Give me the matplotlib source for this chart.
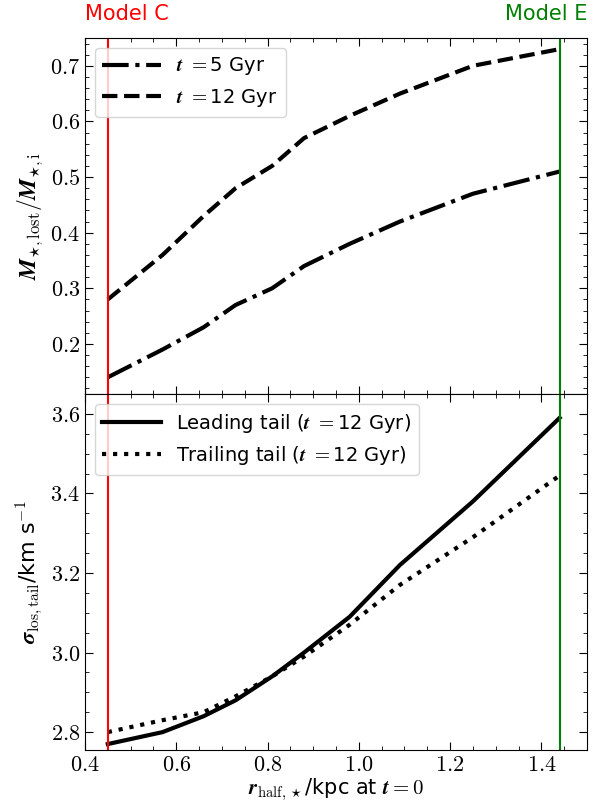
import numpy as np
import matplotlib
matplotlib.use('Agg')
import matplotlib.pyplot as plt
from matplotlib.ticker import MultipleLocator, FuncFormatter

plt.rcParams['mathtext.fontset'] = 'cm'
plt.rcParams['font.family'] = ['DejaVu Sans']

# half-light radius at t=0 for each model
r_half = [0.45, 0.57, 0.66, 0.73, 0.81, 0.88, 0.98, 1.09, 1.25, 1.44]

# fraction of stellar mass lost
mlost_5gyr = [0.14, 0.19, 0.23, 0.27, 0.30, 0.34, 0.38, 0.42, 0.47, 0.51]
mlost_12gyr = [0.28, 0.36, 0.43, 0.48, 0.52, 0.57, 0.61, 0.65, 0.70, 0.73]

# los velocity dispersion of the tails at t=12 Gyr
sig_leading = [2.77, 2.80, 2.84, 2.88, 2.94, 3.00, 3.09, 3.22, 3.38, 3.59]
sig_trailing = [2.80, 2.83, 2.85, 2.89, 2.94, 2.99, 3.07, 3.17, 3.29, 3.445]

x_modelC = 0.45
x_modelE = 1.44

fig, (ax1, ax2) = plt.subplots(2, 1, sharex=True, figsize=(6.01, 8.05), dpi=100)
fig.subplots_adjust(left=0.1414, right=0.9767, top=0.9528, bottom=0.0683, hspace=0)

ax1.plot(r_half, mlost_5gyr, color='k', lw=3, ls='-.', label=r'$\boldsymbol{t}$ $=$5 Gyr')
ax1.plot(r_half, mlost_12gyr, color='k', lw=3, ls='--', label=r'$\boldsymbol{t}$ $=$12 Gyr')
ax1.set_ylim(0.11, 0.75)
ax1.set_ylabel(r'$\boldsymbol{M}_{\star,\rm lost}/\boldsymbol{M}_{\star,\rm i}$', fontsize=17)
ax1.yaxis.set_major_locator(MultipleLocator(0.1))
ax1.yaxis.set_minor_locator(MultipleLocator(0.02))
ax1.legend(loc='upper left', fontsize=14, handlelength=3)

ax2.plot(r_half, sig_leading, color='k', lw=3, ls='-', label=r'Leading tail ($\boldsymbol{t}$ $=$12 Gyr)')
ax2.plot(r_half, sig_trailing, color='k', lw=3, ls=':', label=r'Trailing tail ($\boldsymbol{t}$ $=$12 Gyr)')
ax2.set_ylim(2.755, 3.65)
ax2.set_ylabel(r'$\boldsymbol{\sigma}_{\rm los,tail}$/km s$^{-1}$', fontsize=16)
ax2.yaxis.set_major_locator(MultipleLocator(0.2))
ax2.yaxis.set_minor_locator(MultipleLocator(0.05))
ax2.legend(loc='upper left', fontsize=14, handlelength=3)

ax2.set_xlim(0.4, 1.5)
ax2.xaxis.set_major_locator(MultipleLocator(0.2))
ax2.xaxis.set_minor_locator(MultipleLocator(0.05))
ax2.set_xlabel(r'$\boldsymbol{r}_{\rm half,\star}$/kpc at $\boldsymbol{t}=0$', fontsize=15, labelpad=1)

fmt = FuncFormatter(lambda v, p: r'$%.1f$' % v)
for ax in (ax1, ax2):
    ax.axvline(x_modelC, color='red', lw=1.5)
    ax.axvline(x_modelE, color='green', lw=1.5)
    ax.tick_params(which='both', direction='in', top=True, right=True)
    ax.tick_params(which='major', length=6, labelsize=16)
    ax.tick_params(which='minor', length=3)
    ax.xaxis.set_major_formatter(fmt)
    ax.yaxis.set_major_formatter(fmt)

ax1.text(0.0, 1.04, 'Model C', color='red', fontsize=15, ha='left', va='bottom',
         transform=ax1.transAxes)
ax1.text(1.0, 1.04, 'Model E', color='green', fontsize=15, ha='right', va='bottom',
         transform=ax1.transAxes)

fig.savefig('out.png', dpi=100)
